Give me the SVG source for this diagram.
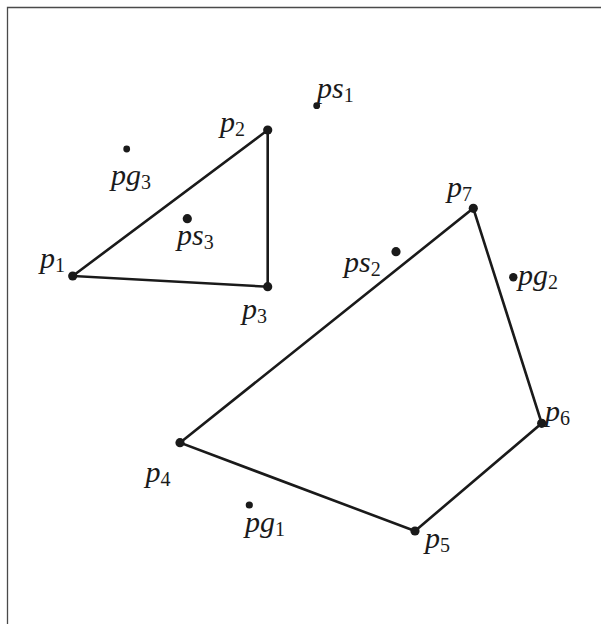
<svg xmlns="http://www.w3.org/2000/svg" width="601" height="624" viewBox="0 0 601 624">
<style>
.edge{stroke:#1a1a1a;stroke-width:2.6;fill:none;stroke-linecap:round}
.v{fill:#1a1a1a}
text{font-family:"Liberation Serif",serif;font-style:italic;font-size:30px;fill:#1a1a1a}
tspan{font-style:normal;font-size:20px}
</style>
<rect width="601" height="624" fill="#ffffff"/>
<path d="M7.5,624 V7.5 H601" stroke="#4a4a4a" stroke-width="1.3" fill="none"/>
<g id="connectors">
<path class="edge" d="M72.7,276 L267.7,130 L267.7,286.7 Z"/>
<path class="edge" d="M180,442.7 L473.3,208.3 L541.7,423.3 L415,531 Z"/>
</g>
<g id="p1"><circle class="v" cx="72.7" cy="276" r="4.6"/><text x="40" y="268">p<tspan dy="4">1</tspan></text></g>
<g id="p2"><circle class="v" cx="267.7" cy="130" r="4.6"/><text x="220" y="132">p<tspan dy="4">2</tspan></text></g>
<g id="p3"><circle class="v" cx="267.7" cy="286.7" r="4.6"/><text x="242" y="319">p<tspan dy="4">3</tspan></text></g>
<g id="pg3"><circle class="v" cx="126.7" cy="149" r="3.4"/><text x="111" y="185">pg<tspan dy="4">3</tspan></text></g>
<g id="ps3"><circle class="v" cx="187.3" cy="218.7" r="4.6"/><text x="177" y="245">ps<tspan dy="4">3</tspan></text></g>
<g id="ps1"><circle class="v" cx="316.7" cy="105.7" r="3.4"/><text x="317" y="98">ps<tspan dy="4">1</tspan></text></g>
<g id="p7"><circle class="v" cx="473.3" cy="208.3" r="4.6"/><text x="447" y="197">p<tspan dy="4">7</tspan></text></g>
<g id="ps2"><circle class="v" cx="396" cy="251.7" r="4.6"/><text x="344" y="271.5">ps<tspan dy="4">2</tspan></text></g>
<g id="pg2"><circle class="v" cx="513.3" cy="277.3" r="4.2"/><text x="518" y="285">pg<tspan dy="4">2</tspan></text></g>
<g id="p6"><circle class="v" cx="541.7" cy="423.3" r="4.6"/><text x="545" y="420.5">p<tspan dy="4">6</tspan></text></g>
<g id="p4"><circle class="v" cx="180" cy="442.7" r="4.6"/><text x="145.5" y="481.5">p<tspan dy="4">4</tspan></text></g>
<g id="pg1"><circle class="v" cx="249.3" cy="505" r="3.6"/><text x="245" y="531.5">pg<tspan dy="4">1</tspan></text></g>
<g id="p5"><circle class="v" cx="415" cy="531" r="4.6"/><text x="425" y="548">p<tspan dy="4">5</tspan></text></g>
</svg>
